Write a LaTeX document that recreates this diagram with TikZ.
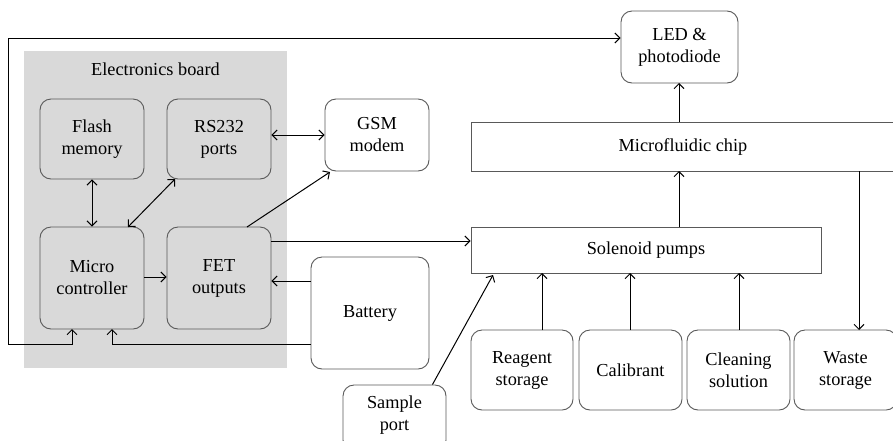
\documentclass[tikz,border=0pt]{standalone}
\usepackage{fontspec}
\setmainfont{Liberation Serif}
\usetikzlibrary{arrows.meta}
\definecolor{boardgray}{HTML}{D9D9D9}
\definecolor{edgegray}{HTML}{595959}
\tikzset{
  txt/.style={font=\fontsize{18.3}{22}\selectfont},
  rbox/.style={draw=edgegray, line width=0.9pt, rounded corners=11pt, align=center, inner sep=0pt, txt},
  gbox/.style={rbox, fill=boardgray},
  sbox/.style={draw=edgegray, line width=0.9pt, align=center, inner sep=0pt, txt, fill=white},
  conn/.style={line width=1pt, -{Straight Barb[length=5pt,width=10pt]}},
  bconn/.style={line width=1pt, {Straight Barb[length=5pt,width=10pt]}-{Straight Barb[length=5pt,width=10pt]}}
}
\begin{document}
\begin{tikzpicture}[x=1pt,y=-1pt]
\useasboundingbox (0,0) rectangle (893,440);
\fill[white] (0,0) rectangle (893,440);
% board
\fill[boardgray] (24,51) rectangle (287,368);
\node[txt] (boardlabel) at (155.5,69) {Electronics board};
% electronics nodes
\node[gbox, minimum width=104pt, minimum height=80pt] (flash) at (92,139) {Flash\\memory};
\node[gbox, minimum width=104pt, minimum height=80pt] (rs) at (219,139) {RS232\\ports};
\node[gbox, minimum width=104pt, minimum height=102pt] (micro) at (92,278) {Micro\\controller};
\node[gbox, minimum width=104pt, minimum height=102pt] (fet) at (219,278) {FET\\outputs};
\node[rbox, fill=white, minimum width=104pt, minimum height=72pt] (gsm) at (377,135) {GSM\\modem};
\node[rbox, fill=white, minimum width=118pt, minimum height=112pt] (bat) at (370,313) {Battery};
\node[rbox, fill=white, minimum width=103pt, minimum height=66pt] (sample) at (394.5,418) {};
\node[txt, align=center] (sampletext) at (394.5,415) {Sample\\port};
% right side
\node[rbox, fill=white, minimum width=117pt, minimum height=72pt] (led) at (679.5,47) {LED \&\\photodiode};
\node[sbox, minimum width=430pt, minimum height=49pt, anchor=west] (chip) at (471,146.5) {};
\node[txt] (chiptext) at (683,146.5) {Microfluidic chip};
\node[sbox, minimum width=350pt, minimum height=46pt] (pumps) at (646,250) {Solenoid pumps};
\node[rbox, fill=white, minimum width=102pt, minimum height=80pt] (reag) at (522,370) {Reagent\\storage};
\node[rbox, fill=white, minimum width=103pt, minimum height=80pt] (cal) at (630.5,370) {Calibrant};
\node[rbox, fill=white, minimum width=103pt, minimum height=80pt] (clean) at (738.5,370) {Cleaning\\solution};
\node[rbox, fill=white, minimum width=103pt, minimum height=80pt] (waste) at (845.5,370) {Waste\\storage};
% coordinates
\coordinate (tl) at (8,38);
\coordinate (bl) at (8,344);
% connectors
\draw[bconn] (rs.east |- 0,135) -- (gsm.west |- 0,135);
\draw[bconn] (flash.south) -- (micro.north);
\draw[bconn] (128,227) -- (175,179);
\draw[conn] (247,227) -- (330,172);
\draw[conn] (micro.east |- 0,277) -- (fet.west |- 0,277);
\draw[conn] (bat.west |- 0,281) -- (fet.east |- 0,281);
\draw[conn] (bat.west |- 0,344) -- (112,344) -- (112,329);
\draw[bconn] (led.west |- 0,38) -- (tl) -- (bl) -- (72,344) -- (72,329);
\draw[conn] (fet.east |- 0,241) -- (pumps.west |- 0,241);
\draw[conn] (sample.north east) ++(-14,0) -- (493,275);
\draw[conn] (679,122) -- (679,83);
\draw[conn] (679,227) -- (679,171);
\draw[conn] (859,171) -- (859,330);
\draw[conn] (542,330) -- (542,273);
\draw[conn] (630,330) -- (630,273);
\draw[conn] (739,330) -- (739,273);
\end{tikzpicture}
\end{document}
